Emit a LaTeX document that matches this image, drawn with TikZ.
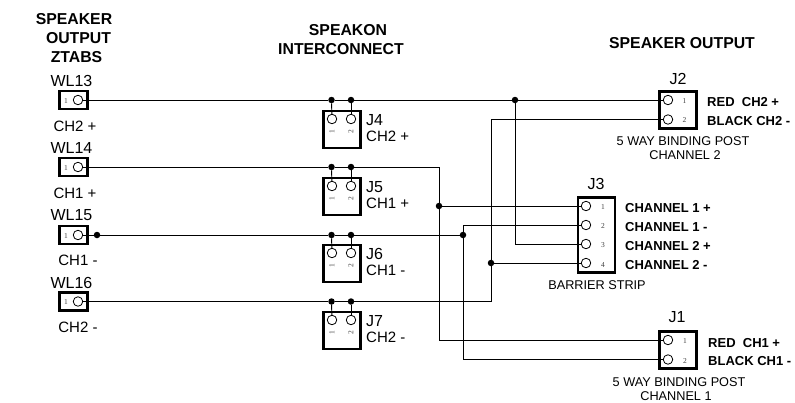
\documentclass[tikz,border=0pt]{standalone}
\usepackage{fontspec}
\setmainfont{Liberation Sans}
\setmonofont{Liberation Serif}
\newcommand{\fsz}[1]{\fontsize{#1}{#1}\selectfont}
\tikzset{
  x=1pt,y=-1pt,
  wire/.style={line width=0.95pt,black},
  compbox/.style={draw,line width=2.8pt,rectangle,inner sep=0pt,line join=miter},
  pinhole/.style={draw,circle,line width=0.8pt,inner sep=0pt,minimum size=9.5pt,fill=white},
  dotj/.style={circle,fill=black,inner sep=0pt,minimum size=6.5pt},
  ttl/.style={font=\fsz{15.8}\bfseries,inner sep=0pt},
  lab/.style={font=\fsz{15},inner sep=0pt},
  reflab/.style={font=\fsz{16},inner sep=0pt},
  sig/.style={font=\fsz{13}\bfseries,inner sep=0pt,anchor=west},
  small/.style={font=\fsz{12.7},inner sep=0pt},
  pinnum/.style={font=\ttfamily\fsz{7.5},inner sep=0pt,text=black!75},
}
\newcommand{\ztab}[2]{% name, y
  \node[compbox,minimum width=28pt,minimum height=18pt] (#1box) at (73.5,#2) {};
  \node[pinhole] (#1) at (78,#2) {};
  \node[pinnum] (#1n) at (66,#2+1) {1};
}
\newcommand{\speakon}[2]{% name, top y
  \node[compbox,minimum width=37pt,minimum height=37pt] (#1box) at (342,#2+19.5) {};
  \node[pinhole] (#1a) at (332,#2+9) {};
  \node[pinhole] (#1b) at (351,#2+9) {};
  \node[pinnum,rotate=90] (#1na) at (332,#2+22) {1};
  \node[pinnum,rotate=90] (#1nb) at (351,#2+22) {2};
}
\begin{document}
\begin{tikzpicture}
\useasboundingbox (0,0) rectangle (795,402);
% titles
\node[ttl] (t1a) at (74,19) {SPEAKER};
\node[ttl] (t1b) at (78.5,38) {OUTPUT};
\node[ttl] (t1c) at (76.5,57) {ZTABS};
\node[ttl] (t2a) at (348,30) {SPEAKON};
\node[ttl] (t2b) at (341,49) {INTERCONNECT};
\node[ttl] (t3) at (682,43) {SPEAKER OUTPUT};
% ztabs
\ztab{wa}{100}
\ztab{wb}{167}
\ztab{wc}{235}
\ztab{wd}{301.5}
\node[reflab] (wal) at (71.5,81) {WL13};
\node[reflab] (wbl) at (71.5,148) {WL14};
\node[reflab] (wcl) at (71.5,215) {WL15};
\node[reflab] (wdl) at (71.5,283) {WL16};
\node[lab] (wat) at (75,126) {CH2 +};
\node[lab] (wbt) at (75,193) {CH1 +};
\node[lab] (wct) at (78,260) {CH1 -};
\node[lab] (wdt) at (78,327) {CH2 -};
% speakons
\speakon{ja}{110}
\speakon{jb}{177}
\speakon{jc}{244}
\speakon{jd}{311}
\node[reflab,anchor=west] (jal) at (366,120) {J4};
\node[lab,anchor=west] (jat) at (366,136) {CH2 +};
\node[reflab,anchor=west] (jbl) at (366,187) {J5};
\node[lab,anchor=west] (jbt) at (366,203) {CH1 +};
\node[reflab,anchor=west] (jcl) at (366,254) {J6};
\node[lab,anchor=west] (jct) at (366,270) {CH1 -};
\node[reflab,anchor=west] (jdl) at (366,321) {J7};
\node[lab,anchor=west] (jdt) at (366,337) {CH2 -};
% J2
\node[compbox,minimum width=37pt,minimum height=37pt] (j2) at (678,110) {};
\node[pinhole] (j2a) at (668,100) {};
\node[pinhole] (j2b) at (668,119.5) {};
\node[pinnum] (j2na) at (684.5,101) {1};
\node[pinnum] (j2nb) at (684.5,120.5) {2};
\node[reflab] (j2l) at (678,79) {J2};
\node[sig] (j2s) at (707,102.5) {RED\ \ CH2 +};
\node[sig] (j2t) at (707,121.5) {BLACK CH2 -};
\node[small] (j2c) at (683,141.5) {5 WAY BINDING POST};
\node[small] (j2d) at (685,155) {CHANNEL 2};
% J3
\node[compbox,minimum width=37pt,minimum height=75pt] (j3) at (596.5,235) {};
\node[pinhole] (j3a) at (586,206) {};
\node[pinhole] (j3b) at (586,225) {};
\node[pinhole] (j3c) at (586,244) {};
\node[pinhole] (j3d) at (586,263) {};
\node[pinnum] (j3na) at (603,207) {1};
\node[pinnum] (j3nb) at (603,226.5) {2};
\node[pinnum] (j3nc) at (603,245.5) {3};
\node[pinnum] (j3nd) at (603,265) {4};
\node[reflab] (j3l) at (596,184) {J3};
\node[sig] (j3s) at (625,208) {CHANNEL 1 +};
\node[sig] (j3t) at (625,227) {CHANNEL 1 -};
\node[sig] (j3u) at (625,246) {CHANNEL 2 +};
\node[sig] (j3v) at (625,265) {CHANNEL 2 -};
\node[small] (j3c2) at (597,285) {BARRIER STRIP};
% J1
\node[compbox,minimum width=37pt,minimum height=37pt] (j1) at (678,350) {};
\node[pinhole] (j1a) at (668,340) {};
\node[pinhole] (j1b) at (668,359.5) {};
\node[pinnum] (j1na) at (685,341) {1};
\node[pinnum] (j1nb) at (685,361) {2};
\node[reflab] (j1l) at (677,317) {J1};
\node[sig] (j1s) at (708,343) {RED\ \ CH1 +};
\node[sig] (j1t) at (708,361.5) {BLACK CH1 -};
\node[small] (j1c) at (679,382) {5 WAY BINDING POST};
\node[small] (j1d) at (676,396) {CHANNEL 1};
% junctions
\node[dotj] (d1) at (331.5,100) {};
\node[dotj] (d2) at (351,100) {};
\node[dotj] (d3) at (515,100) {};
\node[dotj] (d4) at (331.5,167) {};
\node[dotj] (d5) at (351,167) {};
\node[dotj] (d6) at (439,206) {};
\node[dotj] (d7) at (97,235) {};
\node[dotj] (d8) at (331.5,235) {};
\node[dotj] (d9) at (351,235) {};
\node[dotj] (d10) at (463,235) {};
\node[dotj] (d11) at (331.5,301.5) {};
\node[dotj] (d12) at (351,301.5) {};
\node[dotj] (d13) at (491,263) {};
\coordinate (c1) at (439,167);
\coordinate (c2) at (491,301.5);
% wires
\draw[wire] (wa.east) -- (d1) -- (d2) -- (d3) -- (j2a.west);
\draw[wire] (wb.east) -- (d4) -- (d5) -- (c1) -- (d6) |- (j1a.west);
\draw[wire] (d6) -- (j3a.west);
\draw[wire] (wc.east) -- (d7) -- (d8) -- (d9) -- (d10);
\draw[wire] (d10) |- (j1b.west);
\draw[wire] (d10) |- (j3b.west);
\draw[wire] (wd.east) -- (d11) -- (d12) -- (c2) -- (d13) |- (j2b.west);
\draw[wire] (d13) -- (j3d.west);
\draw[wire] (d3) |- (j3c.west);
\draw[wire] (d1) -- (jaa);
\draw[wire] (d2) -- (jab);
\draw[wire] (d4) -- (jba);
\draw[wire] (d5) -- (jbb);
\draw[wire] (d8) -- (jca);
\draw[wire] (d9) -- (jcb);
\draw[wire] (d11) -- (jda);
\draw[wire] (d12) -- (jdb);
\end{tikzpicture}
\end{document}
